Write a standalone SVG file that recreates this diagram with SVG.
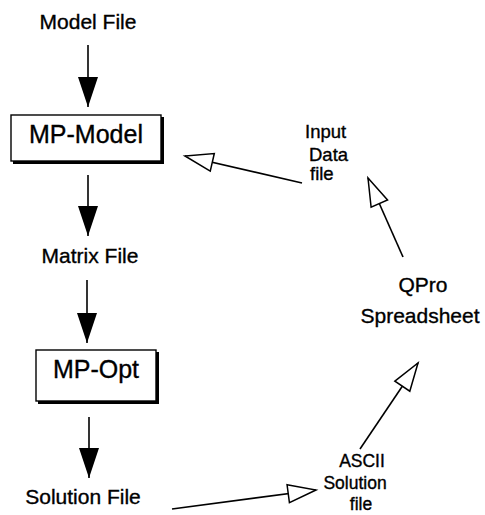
<svg xmlns="http://www.w3.org/2000/svg" width="485" height="515" viewBox="0 0 485 515">
<style>
text{font-family:"Liberation Sans",Arial,sans-serif;fill:#000;stroke:#000;stroke-width:0.35}
.lbl{font-size:21px}
.box{font-size:25px}
.sm{font-size:18.5px}
.sm2{font-size:17.5px}
.ln{stroke:#000;stroke-width:1.6;fill:none}
.bx{fill:#fff;stroke:#000;stroke-width:1.4}
</style>
<defs>
<marker id="fill" markerUnits="userSpaceOnUse" markerWidth="32" markerHeight="22" refX="30" refY="10" orient="auto" overflow="visible">
<path d="M0,0 L30,10 L0,20 z" fill="#000"/>
</marker>
<marker id="open" markerUnits="userSpaceOnUse" markerWidth="30" markerHeight="20" refX="29" refY="9" orient="auto" overflow="visible">
<path d="M1,0 L29,9 L1,18 z" fill="#fff" stroke="#000" stroke-width="1.5" stroke-linejoin="miter"/>
</marker>
</defs>
<g id="model-file"><text class="lbl" x="88" y="29" text-anchor="middle">Model File</text></g>
<g id="mp-model">
<rect x="13" y="117" width="151" height="47" fill="#000"/>
<rect class="bx" x="11" y="115" width="150" height="46"/>
<text class="box" x="86" y="143" text-anchor="middle">MP-Model</text>
</g>
<g id="matrix-file"><text class="lbl" x="90" y="263" text-anchor="middle">Matrix File</text></g>
<g id="mp-opt">
<rect x="38" y="352" width="121" height="52" fill="#000"/>
<rect class="bx" x="36" y="350" width="120" height="51"/>
<text class="box" x="96" y="378" text-anchor="middle">MP-Opt</text>
</g>
<g id="solution-file"><text class="lbl" x="83" y="504" text-anchor="middle">Solution File</text></g>
<g id="ascii">
<text class="sm2" text-anchor="middle"><tspan x="362" y="467">ASCII</tspan><tspan x="355" y="489">Solution</tspan><tspan x="361" y="510">file</tspan></text>
</g>
<g id="qpro">
<text class="lbl" text-anchor="middle"><tspan x="423" y="292">QPro</tspan><tspan x="420" y="323">Spreadsheet</tspan></text>
</g>
<g id="input-data">
<text class="sm"><tspan x="305" y="138">Input</tspan><tspan x="309" y="161">Data</tspan><tspan x="310" y="180">file</tspan></text>
</g>
<g id="connectors">
<line class="ln" x1="88" y1="45" x2="88" y2="107" marker-end="url(#fill)"/>
<line class="ln" x1="88" y1="175" x2="88" y2="236" marker-end="url(#fill)"/>
<line class="ln" x1="87" y1="280" x2="87" y2="343" marker-end="url(#fill)"/>
<line class="ln" x1="89" y1="417" x2="89" y2="478" marker-end="url(#fill)"/>
<line class="ln" x1="172" y1="509" x2="316" y2="490" marker-end="url(#open)"/>
<line class="ln" x1="360" y1="449" x2="418" y2="363" marker-end="url(#open)"/>
<line class="ln" x1="403" y1="257" x2="368" y2="178" marker-end="url(#open)"/>
<line class="ln" x1="302" y1="183" x2="185" y2="156" marker-end="url(#open)"/>
</g>
</svg>
